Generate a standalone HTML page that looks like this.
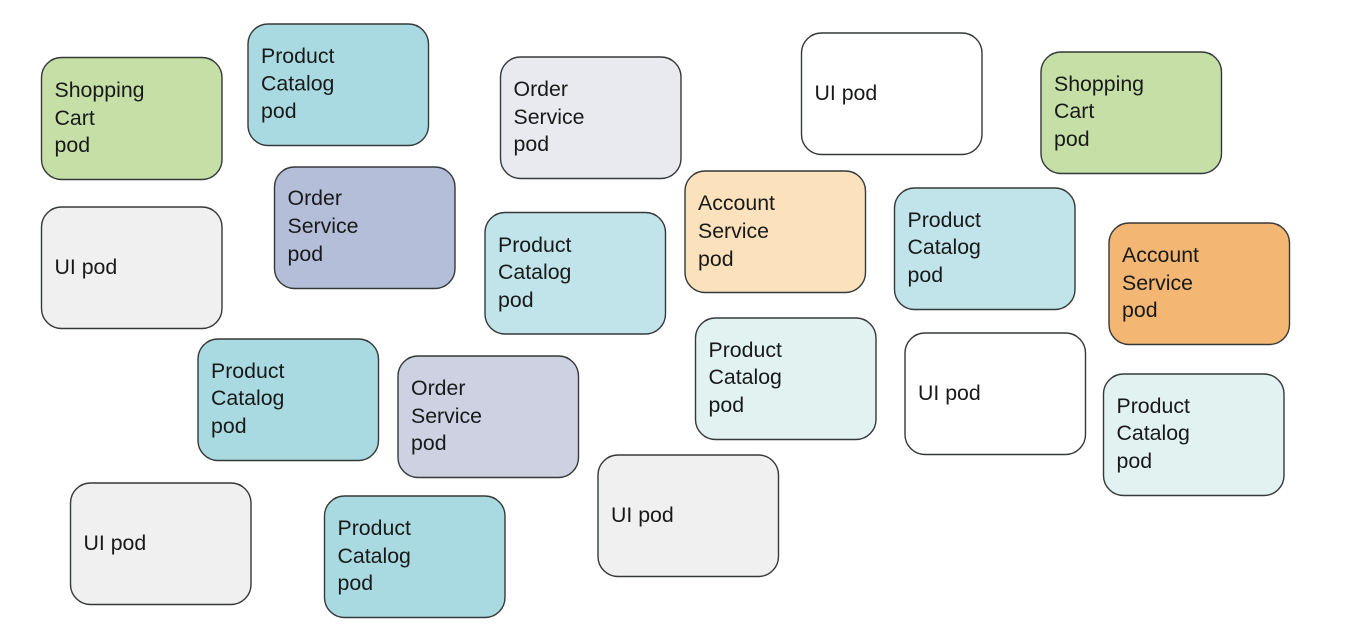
<!DOCTYPE html>
<html>
<head>
<meta charset="utf-8">
<style>
html,body{margin:0;padding:0;background:#fff;width:1348px;height:640px;overflow:hidden}
svg{display:block}
rect{stroke:#353939;stroke-width:1.4}
text{font-family:"Liberation Sans",sans-serif;font-size:21.3px;fill:#181a1a}
</style>
</head>
<body>
<svg width="1348" height="640" viewBox="0 0 1348 640" xmlns="http://www.w3.org/2000/svg">
<rect x="41.5" y="57.5" width="180.5" height="122" rx="20" fill="#c6dfa6"/>
<text x="54.5" y="97">Shopping</text><text x="54.5" y="125">Cart</text><text x="54.5" y="152">pod</text>

<rect x="248" y="24" width="180.500" height="121.500" rx="20" fill="#aadae1"/>
<text x="261" y="63">Product</text><text x="261" y="90.500">Catalog</text><text x="261" y="118">pod</text>

<rect x="274.500" y="167" width="180.500" height="121.500" rx="20" fill="#b5bed9"/>
<text x="287.500" y="205">Order</text><text x="287.500" y="233">Service</text><text x="287.500" y="261">pod</text>

<rect x="41.500" y="207" width="180.500" height="121.500" rx="20" fill="#f0f0f0"/>
<text x="54.500" y="274">UI pod</text>

<rect x="500.500" y="57" width="180.500" height="121.500" rx="20" fill="#e8eaef"/>
<text x="513.500" y="96">Order</text><text x="513.500" y="124">Service</text><text x="513.500" y="151">pod</text>

<rect x="485" y="212.500" width="180.500" height="121.500" rx="20" fill="#c0e4e9"/>
<text x="498" y="252">Product</text><text x="498" y="279">Catalog</text><text x="498" y="307">pod</text>

<rect x="801.500" y="33" width="180.500" height="121.500" rx="20" fill="#ffffff"/>
<text x="814.500" y="100">UI pod</text>

<rect x="685" y="171" width="180.500" height="121.500" rx="20" fill="#fce1bd"/>
<text x="698" y="210">Account</text><text x="698" y="238">Service</text><text x="698" y="266">pod</text>

<rect x="894.500" y="188" width="180.500" height="121.500" rx="20" fill="#c0e4e9"/>
<text x="907.500" y="227">Product</text><text x="907.500" y="254">Catalog</text><text x="907.500" y="282">pod</text>

<rect x="1041" y="52" width="180.500" height="121.500" rx="20" fill="#c6dfa6"/>
<text x="1054" y="91">Shopping</text><text x="1054" y="118">Cart</text><text x="1054" y="146">pod</text>

<rect x="1109" y="223" width="180.500" height="121.500" rx="20" fill="#f4b673"/>
<text x="1122" y="262">Account</text><text x="1122" y="290">Service</text><text x="1122" y="317">pod</text>

<rect x="695.500" y="318" width="180.500" height="121.500" rx="20" fill="#e2f2f1"/>
<text x="708.500" y="357">Product</text><text x="708.500" y="384">Catalog</text><text x="708.500" y="412">pod</text>

<rect x="905" y="333" width="180.500" height="121.500" rx="20" fill="#ffffff"/>
<text x="918" y="400">UI pod</text>

<rect x="1103.500" y="374" width="180.500" height="121.500" rx="20" fill="#e2f2f1"/>
<text x="1116.500" y="413">Product</text><text x="1116.500" y="440">Catalog</text><text x="1116.500" y="468">pod</text>

<rect x="198" y="339" width="180.500" height="121.500" rx="20" fill="#aadae1"/>
<text x="211" y="378">Product</text><text x="211" y="405">Catalog</text><text x="211" y="433">pod</text>

<rect x="398" y="356" width="180.500" height="121.500" rx="20" fill="#cdd1e2"/>
<text x="411" y="395">Order</text><text x="411" y="423">Service</text><text x="411" y="450">pod</text>

<rect x="70.500" y="483" width="180.500" height="121.500" rx="20" fill="#f0f0f0"/>
<text x="83.500" y="550">UI pod</text>

<rect x="324.500" y="496" width="180.500" height="121.500" rx="20" fill="#aadae1"/>
<text x="337.500" y="535">Product</text><text x="337.500" y="563">Catalog</text><text x="337.500" y="590">pod</text>

<rect x="598" y="455" width="180.500" height="121.500" rx="20" fill="#f0f0f0"/>
<text x="611" y="522">UI pod</text>
</svg>
</body>
</html>
